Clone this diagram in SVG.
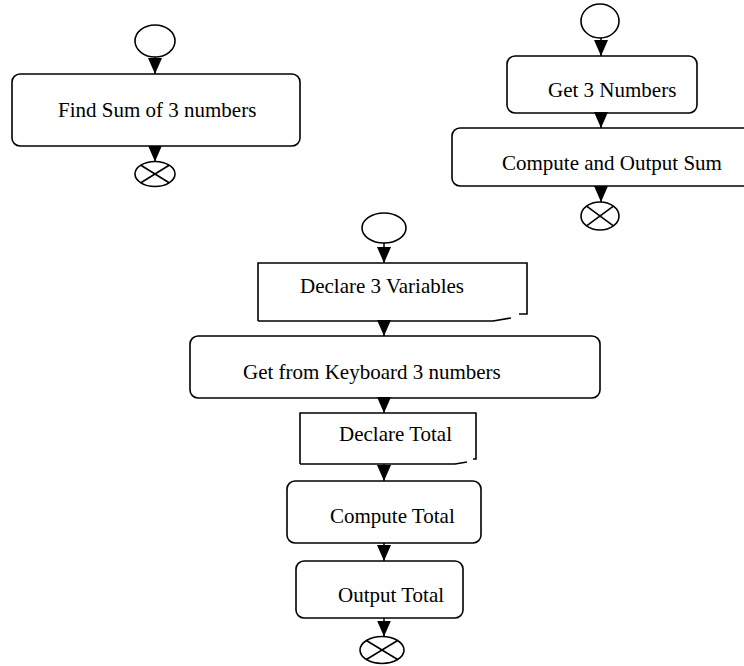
<svg xmlns="http://www.w3.org/2000/svg" width="744" height="666" viewBox="0 0 744 666">
<defs>
<style>
.box{fill:#fff;stroke:#000;stroke-width:1.6}
.ell{fill:#fff;stroke:#000;stroke-width:1.6}
.x{stroke:#000;stroke-width:1.6}
.lbl{font-family:"Liberation Serif","Times New Roman",serif;font-size:21px;fill:#000}
.con{stroke:#000;stroke-width:1.5;fill:none}
</style>
<marker id="ah" markerUnits="userSpaceOnUse" markerWidth="16" markerHeight="14" refX="16" refY="7" orient="auto" viewBox="0 0 16 14" preserveAspectRatio="none">
<path d="M0,0 L16,7 L0,14 Z" fill="#000"/>
</marker>
</defs>
<rect width="744" height="666" fill="#fff"/>

<g id="start1"><ellipse class="ell" cx="155" cy="41" rx="20" ry="16"/></g>
<g id="findSum"><rect class="box" x="12" y="74" width="288" height="72" rx="8"/><text class="lbl" x="58" y="117">Find Sum of 3 numbers</text></g>
<g id="end1"><ellipse class="ell" cx="155" cy="174" rx="20" ry="12.5"/><line class="x" x1="140.9" y1="165.2" x2="169.1" y2="182.8"/><line class="x" x1="140.9" y1="182.8" x2="169.1" y2="165.2"/></g>

<g id="start2"><ellipse class="ell" cx="600" cy="21" rx="19" ry="17"/></g>
<g id="get3"><rect class="box" x="507" y="56" width="190" height="57" rx="8"/><text class="lbl" x="548" y="97">Get 3 Numbers</text></g>
<g id="computeOutput"><rect class="box" x="452" y="128" width="300" height="58" rx="8"/><text class="lbl" x="502" y="170">Compute and Output Sum</text></g>
<g id="end2"><ellipse class="ell" cx="600" cy="216" rx="19" ry="14"/><line class="x" x1="586.6" y1="206.1" x2="613.4" y2="225.9"/><line class="x" x1="586.6" y1="225.9" x2="613.4" y2="206.1"/></g>

<g id="start3"><ellipse class="ell" cx="384" cy="228" rx="22" ry="15"/></g>
<g id="declare3"><path class="box" d="M258,321 V263 H527 V314 H519 M511,318 L493,321 H258" stroke-width="1.8"/><text class="lbl" x="300" y="293">Declare 3 Variables</text></g>
<g id="getKeyboard"><rect class="box" x="190" y="336" width="410" height="62" rx="8"/><text class="lbl" x="243" y="379">Get from Keyboard 3 numbers</text></g>
<g id="declareTotal"><path class="box" d="M300,464 V413 H476 V459 H473 M467,462 L455,464 H300" stroke-width="1.8"/><text class="lbl" x="339" y="441">Declare Total</text></g>
<g id="computeTotal"><rect class="box" x="287" y="481" width="194" height="62" rx="8"/><text class="lbl" x="330" y="523">Compute Total</text></g>
<g id="outputTotal"><rect class="box" x="296" y="561" width="167" height="57" rx="8"/><text class="lbl" x="338" y="602">Output Total</text></g>
<g id="end3"><ellipse class="ell" cx="382" cy="650" rx="22" ry="13.5"/><line class="x" x1="366.4" y1="640.5" x2="397.6" y2="659.5"/><line class="x" x1="366.4" y1="659.5" x2="397.6" y2="640.5"/></g>

<g id="connectors">
<line class="con" x1="155" y1="57" x2="155" y2="74" marker-end="url(#ah)"/>
<line class="con" x1="155" y1="146" x2="155" y2="161.5" marker-end="url(#ah)"/>
<line class="con" x1="601" y1="38" x2="601" y2="56" marker-end="url(#ah)"/>
<line class="con" x1="601" y1="113" x2="601" y2="128" marker-end="url(#ah)"/>
<line class="con" x1="601" y1="186" x2="601" y2="202" marker-end="url(#ah)"/>
<line class="con" x1="384" y1="243" x2="384" y2="263" marker-end="url(#ah)"/>
<line class="con" x1="384" y1="321" x2="384" y2="336" marker-end="url(#ah)"/>
<line class="con" x1="384" y1="398" x2="384" y2="413" marker-end="url(#ah)"/>
<line class="con" x1="384" y1="464" x2="384" y2="481" marker-end="url(#ah)"/>
<line class="con" x1="384" y1="543" x2="384" y2="561" marker-end="url(#ah)"/>
<line class="con" x1="384" y1="618" x2="384" y2="636.5" marker-end="url(#ah)"/>
</g>
</svg>
